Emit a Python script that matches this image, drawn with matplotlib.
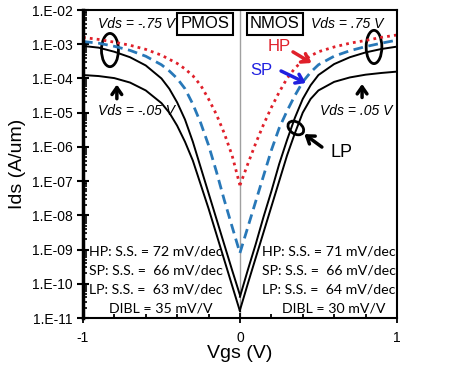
import numpy as np
import matplotlib
matplotlib.use("Agg")
import matplotlib.pyplot as plt
from matplotlib.patches import Ellipse
from matplotlib.ticker import FixedLocator, FuncFormatter, LogLocator, NullFormatter

# PMOS side (Vgs <= 0), values are log10(Ids in A/um)
vgs_p = [-1, -0.9, -0.8, -0.7, -0.6, -0.5, -0.45, -0.4, -0.35, -0.3, -0.25, -0.2, -0.15, -0.1, -0.05, 0]
hp_p = [-2.80, -2.86, -2.94, -3.03, -3.15, -3.32, -3.44, -3.56, -3.72, -3.92, -4.20, -4.60, -5.05, -5.60, -6.25, -7.12]
sp_p = [-2.92, -2.97, -3.06, -3.18, -3.35, -3.60, -3.78, -4.00, -4.30, -4.75, -5.30, -5.95, -6.72, -7.55, -8.33, -9.10]
lp_hi_p = [-3.05, -3.10, -3.22, -3.38, -3.62, -4.00, -4.30, -4.70, -5.20, -5.85, -6.60, -7.35, -8.10, -8.85, -9.60, -10.33]
lp_lo_p = [-3.90, -3.93, -3.99, -4.12, -4.35, -4.72, -5.00, -5.38, -5.85, -6.40, -7.10, -7.80, -8.55, -9.30, -10.05, -10.80]

# NMOS side (Vgs >= 0)
vgs_n = [0, 0.05, 0.1, 0.15, 0.2, 0.25, 0.3, 0.35, 0.4, 0.45, 0.5, 0.6, 0.7, 0.8, 0.9, 1.0]
hp_n = [-7.12, -6.50, -5.90, -5.35, -4.85, -4.40, -4.00, -3.70, -3.48, -3.34, -3.22, -3.08, -2.97, -2.89, -2.80, -2.73]
sp_n = [-9.10, -8.35, -7.60, -6.85, -6.10, -5.45, -4.95, -4.50, -4.10, -3.82, -3.60, -3.35, -3.19, -3.07, -2.97, -2.88]
lp_hi_n = [-10.38, -9.60, -8.85, -8.05, -7.30, -6.50, -5.80, -5.15, -4.60, -4.20, -3.90, -3.58, -3.38, -3.24, -3.14, -3.07]
lp_lo_n = [-10.77, -10.00, -9.25, -8.50, -7.75, -7.00, -6.25, -5.60, -5.00, -4.60, -4.35, -4.10, -3.97, -3.89, -3.84, -3.80]

ss_left = ["HP: S.S. = 72 mV/dec", "SP: S.S. =  66 mV/dec", "LP: S.S. =  63 mV/dec"]
ss_right = ["HP: S.S. = 71 mV/dec", "SP: S.S. =  66 mV/dec", "LP: S.S. =  64 mV/dec"]
dibl_left = "DIBL = 35 mV/V"
dibl_right = "DIBL = 30 mV/V"

plt.rcParams['font.family'] = ['Liberation Sans', 'DejaVu Sans']

fig = plt.figure(figsize=(4.74, 3.75), dpi=100)
ax = fig.add_axes([0.175, 0.152, 0.6624, 0.8213])

ax.axvline(0, color='#a0a0a0', lw=1, zorder=1)

red = '#e0202a'
blue = '#2878b8'
for vgs, hp, sp, hi, lo in [(vgs_p, hp_p, sp_p, lp_hi_p, lp_lo_p),
                            (vgs_n, hp_n, sp_n, lp_hi_n, lp_lo_n)]:
    ax.plot(vgs, 10 ** np.array(hp), color=red, lw=2, linestyle=(0, (1, 1.5)))
    ax.plot(vgs, 10 ** np.array(sp), color=blue, lw=2, linestyle=(0, (3.5, 2)))
    ax.plot(vgs, 10 ** np.array(hi), color='black', lw=1.4)
    ax.plot(vgs, 10 ** np.array(lo), color='black', lw=1.4)

ax.set_yscale('log')
ax.set_xlim(-1, 1)
ax.set_ylim(1e-11, 1e-2)

ax.xaxis.set_major_locator(FixedLocator([-1, 0, 1]))
ax.xaxis.set_minor_locator(FixedLocator([-0.8, -0.6, -0.4, -0.2, 0.2, 0.4, 0.6, 0.8]))
ax.set_xticklabels(['-1', '0', '1'])
ax.yaxis.set_major_locator(LogLocator(base=10, numticks=20))
ax.yaxis.set_minor_locator(LogLocator(base=10, subs=np.arange(2, 10), numticks=20))
ax.yaxis.set_minor_formatter(NullFormatter())
ax.yaxis.set_major_formatter(FuncFormatter(lambda v, p: "1.E%03d" % int(round(np.log10(v)))))

ax.tick_params(axis='x', which='major', direction='inout', length=7, width=1.3, labelsize=10, pad=6)
ax.tick_params(axis='x', which='minor', direction='in', length=3, width=1.3)
ax.tick_params(axis='y', which='major', direction='inout', length=8, width=1.5, labelsize=10)
ax.tick_params(axis='y', which='minor', direction='in', length=3, width=1.2)
for s in ax.spines.values():
    s.set_linewidth(1.5)
ax.spines['left'].set_linewidth(2.5)

ax.set_xlabel('Vgs (V)', fontsize=14, labelpad=0)
ax.set_ylabel('Ids (A/um)', fontsize=14, labelpad=4)

box = dict(boxstyle='square,pad=0.2', fc='white', ec='black', lw=1.5)
ax.text(0.389, 0.955, 'PMOS', transform=ax.transAxes, ha='center', va='center', fontsize=12, bbox=box)
ax.text(0.611, 0.955, 'NMOS', transform=ax.transAxes, ha='center', va='center', fontsize=12, bbox=box)

ax.text(0.172, 0.955, 'Vds = -.75 V', transform=ax.transAxes, ha='center', va='center', fontsize=10, style='italic')
ax.text(0.841, 0.955, 'Vds = .75 V', transform=ax.transAxes, ha='center', va='center', fontsize=10, style='italic')
ax.text(0.169, 0.672, 'Vds = -.05 V', transform=ax.transAxes, ha='center', va='center', fontsize=10, style='italic')
ax.text(0.871, 0.672, 'Vds = .05 V', transform=ax.transAxes, ha='center', va='center', fontsize=10, style='italic')

ax.text(0.624, 0.880, 'HP', transform=ax.transAxes, ha='center', va='center', fontsize=12, color=red)
ax.text(0.567, 0.805, 'SP', transform=ax.transAxes, ha='center', va='center', fontsize=12, color='#2020e0')
ax.text(0.822, 0.536, 'LP', transform=ax.transAxes, ha='center', va='center', fontsize=13)

arrows = [
    ((0.669, 0.864), (0.728, 0.828), red),
    ((0.631, 0.802), (0.710, 0.763), '#2020e0'),
    ((0.108, 0.712), (0.108, 0.758), 'black'),
    ((0.889, 0.716), (0.889, 0.760), 'black'),
    ((0.761, 0.555), (0.705, 0.597), 'black'),
]
for tail, head, c in arrows:
    ax.annotate('', xy=head, xytext=tail, xycoords='axes fraction', textcoords='axes fraction',
                arrowprops=dict(arrowstyle='->,head_length=0.5,head_width=0.35', color=c, lw=2.5,
                                shrinkA=0, shrinkB=0))

ax.add_patch(Ellipse((0.086, 0.870), 0.054, 0.108, transform=ax.transAxes, fill=False, ec='black', lw=2))
ax.add_patch(Ellipse((0.927, 0.880), 0.05, 0.108, transform=ax.transAxes, fill=False, ec='black', lw=2))
ax.add_patch(Ellipse((0.678, 0.617), 0.055, 0.038, angle=-35, transform=ax.transAxes, fill=False, ec='black', lw=2))

calibri_like = ['Lato', 'DejaVu Sans']
ys = [0.2175, 0.153, 0.094]
for y, sl, sr in zip(ys, ss_left, ss_right):
    ax.text(0.019, y, sl, transform=ax.transAxes, ha='left', va='center', fontsize=10.2, family=calibri_like)
    ax.text(0.570, y, sr, transform=ax.transAxes, ha='left', va='center', fontsize=10.2, family=calibri_like)
ax.text(0.248, 0.032, dibl_left, transform=ax.transAxes, ha='center', va='center', fontsize=10.2, family=calibri_like)
ax.text(0.799, 0.032, dibl_right, transform=ax.transAxes, ha='center', va='center', fontsize=10.2, family=calibri_like)

fig.savefig('out.png', dpi=100)
